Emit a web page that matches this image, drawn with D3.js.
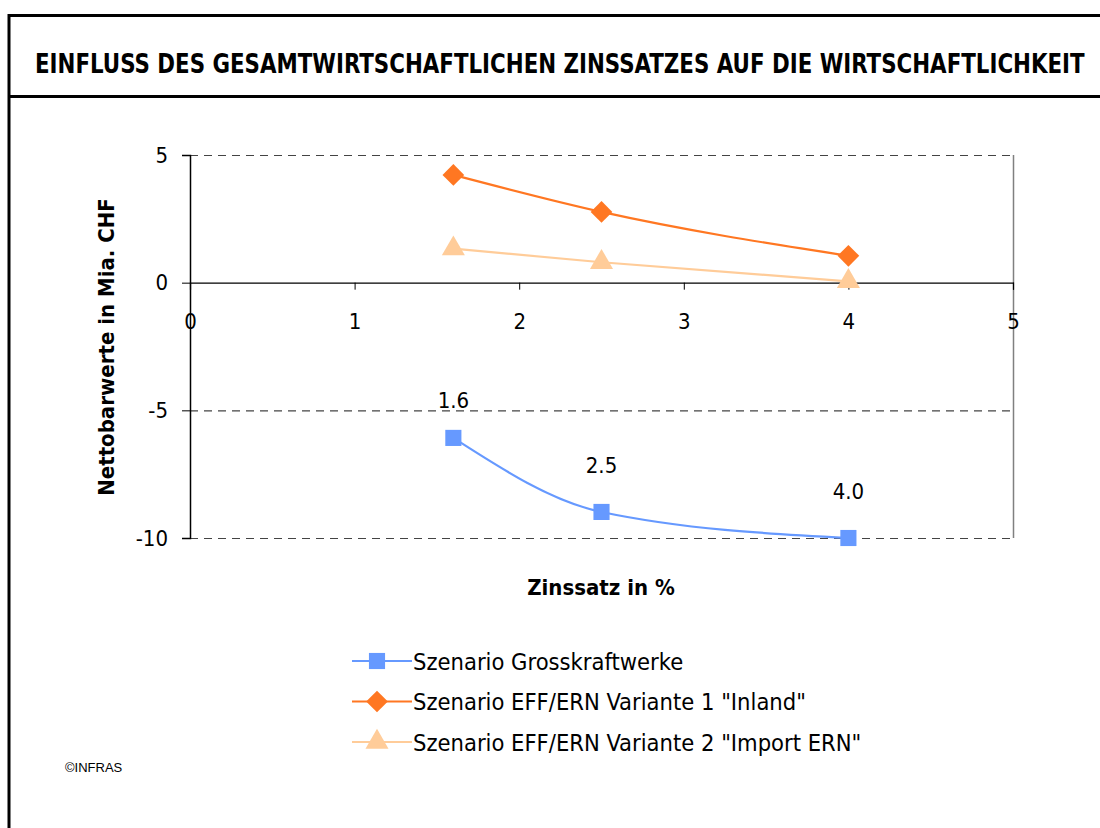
<!DOCTYPE html>
<html>
<head>
<meta charset="utf-8">
<script src="https://cdn.jsdelivr.net/npm/d3@7"></script>
<style>
  body { margin: 0; background: #fff; }
  text { font-family: "DejaVu Sans", sans-serif; font-stretch: condensed; }
</style>
</head>
<body>
<div id="chart"></div>
<script>
// DATA
const rates = [1.6, 2.5, 4.0];
const rateLabels = ["1.6", "2.5", "4.0"];
const grossValues = [-6.08, -8.98, -10.0];
const inlandValues = [4.22, 2.77, 1.05];
const importValues = [1.33, 0.8, 0.05];
const seriesNames = [
    "Szenario Grosskraftwerke",
    "Szenario EFF/ERN Variante 1 \"Inland\"",
    "Szenario EFF/ERN Variante 2 \"Import ERN\""
];
const xTicks = [0, 1, 2, 3, 4, 5];
const yTicks = [5, 0, -5, -10];

const W = 1100, H = 828;
const svg = d3.select("#chart").append("svg")
    .attr("width", W)
    .attr("height", H);

// frame + title band
svg.append("path")
    .attr("d", `M9,${H} V15.5 H${W}`)
    .attr("fill", "none")
    .attr("stroke", "#000")
    .attr("stroke-width", 3);
svg.append("line")
    .attr("x1", 9).attr("x2", W)
    .attr("y1", 96.5).attr("y2", 96.5)
    .attr("stroke", "#000")
    .attr("stroke-width", 3);

// title, fitted to the band width
const title = svg.append("text")
    .attr("font-size", 27)
    .attr("font-weight", "bold")
    .text("EINFLUSS DES GESAMTWIRTSCHAFTLICHEN ZINSSATZES AUF DIE WIRTSCHAFTLICHKEIT");
const titleW = title.node().getComputedTextLength();
title.attr("transform", `translate(35,73) scale(${1050 / titleW},1)`);

// SCALES
const x = d3.scaleLinear().domain([0, 5]).range([190, 1013]);
const y = d3.scaleLinear().domain([-10, 5]).range([538, 155]);

// gridlines (dashed) at 5, -5, -10
svg.append("g")
    .selectAll("line")
    .data(yTicks.filter(d => d !== 0))
    .join("line")
    .attr("x1", x(0)).attr("x2", x(5))
    .attr("y1", d => y(d) + 0.5).attr("y2", d => y(d) + 0.5)
    .attr("stroke", "#444")
    .attr("stroke-width", 1.2)
    .attr("stroke-dasharray", "8,6");

// right border of plot area
svg.append("line")
    .attr("x1", x(5) + 0.5).attr("x2", x(5) + 0.5)
    .attr("y1", y(5)).attr("y2", y(-10))
    .attr("stroke", "#808080")
    .attr("stroke-width", 1.5);

// y axis
const yAxis = svg.append("g")
    .attr("transform", `translate(${x(0)},0)`)
    .call(d3.axisLeft(y).tickValues(yTicks).tickSize(8).tickPadding(14).tickFormat(d => String(d)));
yAxis.select(".domain").attr("stroke", "#000").attr("stroke-width", 1.5);
yAxis.selectAll(".tick line").attr("stroke", "#000");
yAxis.selectAll("text")
    .attr("font-size", 22)
    .attr("fill", "#000")
    .style("font-family", "'DejaVu Sans', sans-serif");

// x axis at y = 0
const xAxis = svg.append("g")
    .attr("transform", `translate(0,${y(0)})`)
    .call(d3.axisBottom(x).tickValues(xTicks).tickSize(7).tickPadding(24).tickFormat(d => String(d)));
xAxis.select(".domain").attr("stroke", "#000").attr("stroke-width", 1.2);
xAxis.selectAll(".tick line").attr("stroke", "#000");
xAxis.selectAll("text")
    .attr("font-size", 22)
    .attr("fill", "#000")
    .style("font-family", "'DejaVu Sans', sans-serif");

// axis titles
svg.append("text")
    .attr("transform", `translate(114,347) rotate(-90)`)
    .attr("text-anchor", "middle")
    .attr("font-size", 22)
    .attr("font-weight", "bold")
    .text("Nettobarwerte in Mia. CHF");

svg.append("text")
    .attr("x", 601)
    .attr("y", 595)
    .attr("text-anchor", "middle")
    .attr("font-size", 22)
    .attr("font-weight", "bold")
    .text("Zinssatz in %");

// SERIES
const series = [
    { name: seriesNames[0], values: grossValues, color: "#6699ff", marker: d3.symbolSquare, size: 260 },
    { name: seriesNames[1], values: inlandValues, color: "#ff7722", marker: d3.symbolDiamond2, size: 300 },
    { name: seriesNames[2], values: importValues, color: "#ffcc99", marker: d3.symbolTriangle, size: 230 }
];

const line = d3.line()
    .x(d => x(d.rate))
    .y(d => y(d.value))
    .curve(d3.curveMonotoneX);

series.forEach(s => {
    const pts = rates.map((r, i) => ({ rate: r, value: s.values[i] }));
    svg.append("path")
        .datum(pts)
        .attr("d", line)
        .attr("fill", "none")
        .attr("stroke", s.color)
        .attr("stroke-width", 2.2);
    svg.append("g")
        .selectAll("path")
        .data(pts)
        .join("path")
        .attr("transform", d => `translate(${x(d.rate)},${y(d.value)})`)
        .attr("d", d3.symbol().type(s.marker).size(s.size))
        .attr("fill", s.color);
});

// data labels above blue points
const labelOffsets = [30, 39, 39];
svg.append("g")
    .selectAll("text")
    .data(rates)
    .join("text")
    .attr("x", d => x(d))
    .attr("y", (d, i) => y(grossValues[i]) - labelOffsets[i])
    .attr("text-anchor", "middle")
    .attr("font-size", 22)
    .text((d, i) => rateLabels[i]);

// LEGEND
const legend = svg.append("g").attr("transform", "translate(352,661)");
series.forEach((s, i) => {
    const g = legend.append("g").attr("transform", `translate(0,${i * 40.5})`);
    g.append("line")
        .attr("x1", 0).attr("x2", 60)
        .attr("stroke", s.color)
        .attr("stroke-width", 2.2);
    g.append("path")
        .attr("transform", "translate(25,0)")
        .attr("d", d3.symbol().type(s.marker).size(s.size))
        .attr("fill", s.color);
    g.append("text")
        .attr("x", 61)
        .attr("y", 8.5)
        .attr("font-size", 23.5)
        .text(s.name);
});

svg.append("text")
    .attr("x", 65)
    .attr("y", 772)
    .attr("font-size", 13)
    .style("font-family", "'Liberation Sans', Arial, sans-serif")
    .style("font-stretch", "normal")
    .text("©INFRAS");
</script>
</body>
</html>
